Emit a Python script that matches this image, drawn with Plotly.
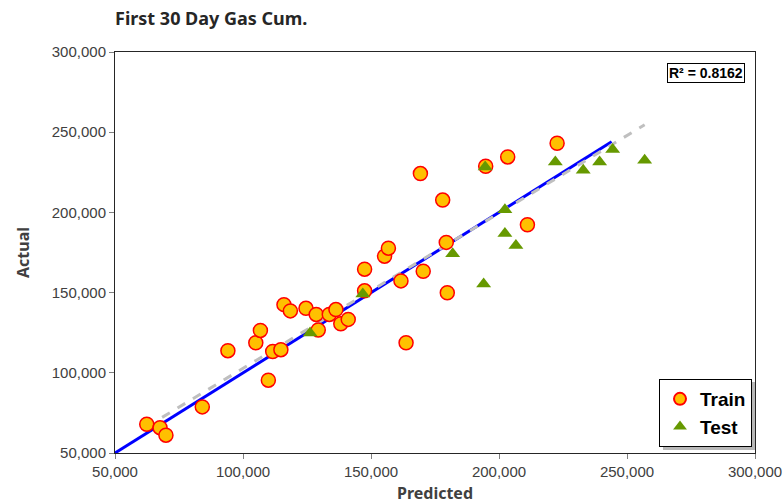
import plotly.graph_objects as go

# ---- data ----
train_pred = [62400, 67600, 69900, 84100, 94100, 105000, 106800, 109900, 111600, 114800,
              116000, 118500, 124600, 128600, 129400, 133700, 136300, 138200, 141100, 147500,
              147500, 155300, 156800, 161700, 163700, 169300, 170400, 178000, 179400, 179800,
              194800, 203400, 211100, 222700]
train_actual = [67900, 65800, 61100, 78750, 113800, 118750, 126400, 95400, 113300, 114400,
                142500, 138600, 140200, 136400, 126700, 136400, 139400, 130600, 133300, 164600,
                151100, 172700, 177700, 157300, 118750, 224200, 163300, 207700, 181300, 149900,
                228750, 234600, 192300, 243100]

test_pred = [126200, 146800, 181900, 194000, 194600, 202300, 202300, 206600, 222000, 232900,
             239300, 244400, 256900]
test_actual = [124800, 149200, 174200, 155400, 228300, 201700, 186900, 179400, 231400, 226300,
               231400, 239200, 232500]

ref_x = [50000, 244000]          # 1:1 line
ref_y = [50000, 244000]
trend_x = [62400, 256900]        # linear trendline (dashed)
trend_y = [66400, 254600]

x_ticks = [50000, 100000, 150000, 200000, 250000, 300000]
y_ticks = [50000, 100000, 150000, 200000, 250000, 300000]

title_text = "First 30 Day Gas Cum."
r2_text = "R² = 0.8162"

W, H = 783, 504
ML, MR, MT, MB = 115, 28, 52, 51

fig = go.Figure()
fig.add_trace(go.Scatter(x=ref_x, y=ref_y, mode="lines",
                         line=dict(color="#0000FF", width=3), showlegend=False, hoverinfo="skip"))
fig.add_trace(go.Scatter(x=trend_x, y=trend_y, mode="lines",
                         line=dict(color="#BFBFBF", width=3, dash="dash"), showlegend=False,
                         hoverinfo="skip"))
fig.add_trace(go.Scatter(x=train_pred, y=train_actual, mode="markers", name="<b>Train</b>",
                         legendgroup="a",
                         marker=dict(symbol="circle", size=14, color="#FFC000",
                                     line=dict(color="#FF0000", width=1.5))))
fig.add_trace(go.Scatter(x=test_pred, y=test_actual, mode="markers", name="<b>Test</b>",
                         legendgroup="b",
                         marker=dict(symbol="triangle-up", size=13, color="#669900",
                                     line=dict(color="#669900", width=0))))

tick_font = dict(family="Liberation Sans, Arial", size=15, color="#404040")
axis_title_font = dict(family="Noto Sans, Open Sans", size=16, color="#404040")

fig.update_xaxes(range=[50000, 300000], tickvals=x_ticks, tickformat=",",
                 showgrid=False, zeroline=False, showline=True, mirror=True,
                 linecolor="#262626", linewidth=1, ticks="outside", ticklen=5,
                 tickcolor="#808080", tickfont=tick_font, automargin=False,
                 title=dict(text="<b>Predicted</b>", font=axis_title_font, standoff=8))
fig.update_yaxes(range=[50000, 300000], tickvals=y_ticks, tickformat=",",
                 showgrid=False, zeroline=False, showline=True, mirror=True,
                 linecolor="#262626", linewidth=1, ticks="outside", ticklen=5,
                 tickcolor="#808080", tickfont=tick_font, automargin=False,
                 title=dict(text="<b>Actual</b>", font=axis_title_font, standoff=18))

# legend position and its drop shadow
pw, ph = W - ML - MR, H - MT - MB
lx1 = (752 - ML) / pw
ly0 = (453 - 447) / ph
fig.add_shape(type="rect", xref="paper", yref="paper",
              x0=(663 - ML) / pw, x1=(755 - ML) / pw,
              y0=(453 - 450) / ph, y1=(453 - 382) / ph,
              fillcolor="#B8B8B8", line=dict(width=0), layer="above")

fig.add_annotation(xref="paper", yref="paper", x=(745 - ML) / pw, y=(453 - 73) / ph,
                   xanchor="right", yanchor="middle", text="<b>" + r2_text + "</b>",
                   showarrow=False, font=dict(family="Liberation Sans, Arial", size=14, color="#000000"),
                   bordercolor="#000000", borderwidth=1, borderpad=1, bgcolor="#FFFFFF")

fig.update_layout(
    width=W, height=H, margin=dict(l=ML, r=MR, t=MT, b=MB, autoexpand=False),
    plot_bgcolor="#FFFFFF", paper_bgcolor="#FFFFFF",
    title=dict(text="<b>" + title_text + "</b>", x=ML / W, xanchor="left", xref="container",
               y=1 - 19 / H, yanchor="middle", yref="container",
               font=dict(family="Noto Sans, Open Sans", size=18, color="#262626")),
    legend=dict(x=lx1, y=ly0, xanchor="right", yanchor="bottom", bgcolor="#FFFFFF",
                bordercolor="#000000", borderwidth=1,
                font=dict(family="Liberation Sans, Arial", size=19, color="#000000"),
                itemsizing="constant", tracegroupgap=0),
    separators=".,",
)

fig.write_html("out.html", config={"displayModeBar": False},
               post_script="document.body.style.margin='0';")
